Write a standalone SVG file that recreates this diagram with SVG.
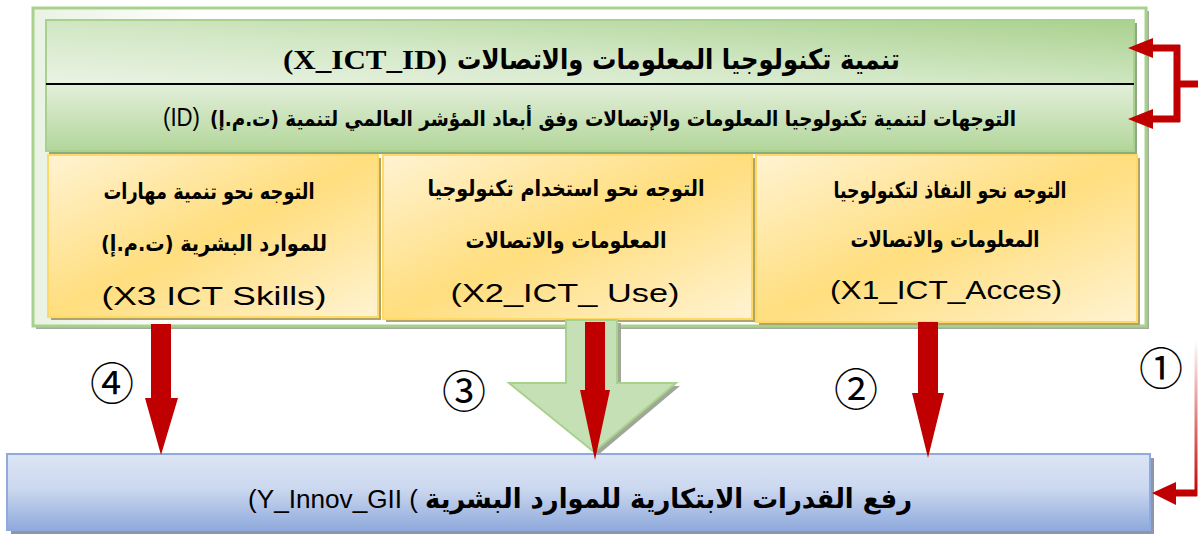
<svg xmlns="http://www.w3.org/2000/svg" width="1198" height="536" viewBox="0 0 1198 536">
<defs>
<linearGradient id="gFrame" x1="0" y1="0" x2="1" y2="0"><stop offset="0" stop-color="#e9f2e3"/><stop offset="0.15" stop-color="#ffffff"/><stop offset="1" stop-color="#ffffff"/></linearGradient>
<linearGradient id="gHeadTop" x1="0" y1="1" x2="1" y2="0"><stop offset="0" stop-color="#eaf3e4"/><stop offset="0.45" stop-color="#d3e8c6"/><stop offset="1" stop-color="#a9d18e"/></linearGradient>
<linearGradient id="gHeadBot" x1="0" y1="0" x2="0" y2="1"><stop offset="0" stop-color="#e3efda"/><stop offset="1" stop-color="#b2d69a"/></linearGradient>
<linearGradient id="gYellow" x1="0" y1="0" x2="1" y2="1"><stop offset="0" stop-color="#fff3d2"/><stop offset="0.5" stop-color="#ffde7e"/><stop offset="1" stop-color="#fff3d2"/></linearGradient>
<linearGradient id="gBlue" x1="0" y1="0" x2="0" y2="1"><stop offset="0" stop-color="#dce5f4"/><stop offset="0.45" stop-color="#ccd8ef"/><stop offset="1" stop-color="#8faadc"/></linearGradient>
<linearGradient id="gFade" x1="0" y1="0" x2="0" y2="1"><stop offset="0" stop-color="#c00000" stop-opacity="0"/><stop offset="1" stop-color="#c00000" stop-opacity="1"/></linearGradient>
<style>
.ar{font-family:"DejaVu Sans",sans-serif;font-weight:bold;fill:#000;}
.title{font-family:"Liberation Serif","DejaVu Sans",serif;font-weight:bold;font-size:27px;fill:#000;}
.lat{font-family:"Liberation Sans","DejaVu Sans",sans-serif;font-size:26px;fill:#000;}
.num{font-family:"Noto Sans CJK JP","DejaVu Sans",sans-serif;font-size:44px;fill:#000;}
.red{fill:#c00000;}
.ybox{fill:url(#gYellow);stroke:#ffd966;stroke-width:2;}
.yshadow{fill:#aea46c;}
</style>
</defs>

<g id="frame">
<rect x="36" y="11" width="1113" height="318" fill="#a3ad9c"/>
<rect x="33" y="8" width="1113" height="318" fill="url(#gFrame)" stroke="#a9d18e" stroke-width="3"/>
</g>

<g id="header">
<rect x="49" y="23" width="1088" height="131" fill="#8faa7f"/>
<rect x="46" y="20" width="1088" height="64" fill="url(#gHeadTop)"/>
<rect x="46" y="84" width="1088" height="67" fill="url(#gHeadBot)"/>
<rect x="46" y="20" width="1088" height="131" fill="none" stroke="#a9d18e" stroke-width="2"/>
<line x1="46" y1="84" x2="1134" y2="84" stroke="#000" stroke-width="2"/>
<text class="title" x="283" y="69" textLength="164" lengthAdjust="spacingAndGlyphs">(X_ICT_ID)</text>
<text class="ar" x="900" y="69" font-size="28" direction="rtl" text-anchor="start" textLength="443" lengthAdjust="spacingAndGlyphs">تنمية تكنولوجيا المعلومات والاتصالات</text>
<text class="lat" x="163" y="126" font-size="24" textLength="37" lengthAdjust="spacingAndGlyphs">(ID)</text>
<text class="ar" x="1016" y="126" font-size="21" direction="rtl" text-anchor="start" textLength="806" lengthAdjust="spacingAndGlyphs">التوجهات لتنمية  تكنولوجيا المعلومات والإتصالات وفق أبعاد المؤشر العالمي لتنمية (ت.م.إ)</text>
</g>

<g id="node-x3">
<rect class="yshadow" x="51" y="158" width="330" height="162"/>
<rect class="ybox" x="48" y="155" width="330" height="162"/>
<text class="ar" x="209" y="199" font-size="22" direction="rtl" text-anchor="middle" textLength="211" lengthAdjust="spacingAndGlyphs">التوجه نحو تنمية مهارات</text>
<text class="ar" x="214" y="251" font-size="22" direction="rtl" text-anchor="middle" textLength="226" lengthAdjust="spacingAndGlyphs">للموارد البشرية (ت.م.إ)</text>
<text class="lat" x="214" y="305" text-anchor="middle" textLength="225" lengthAdjust="spacingAndGlyphs">(X3 ICT Skills)</text>
</g>

<g id="node-x2">
<rect class="yshadow" x="386" y="158" width="369" height="164"/>
<rect class="ybox" x="383" y="155" width="369" height="164"/>
<text class="ar" x="566" y="196" font-size="22" direction="rtl" text-anchor="middle" textLength="277" lengthAdjust="spacingAndGlyphs">التوجه نحو استخدام تكنولوجيا</text>
<text class="ar" x="566" y="248" font-size="22" direction="rtl" text-anchor="middle" textLength="201" lengthAdjust="spacingAndGlyphs">المعلومات والاتصالات</text>
<text class="lat" x="565" y="302" text-anchor="middle" textLength="229" lengthAdjust="spacingAndGlyphs">(X2_ICT_ Use)</text>
</g>

<g id="node-x1">
<rect class="yshadow" x="759" y="158" width="381" height="167"/>
<rect class="ybox" x="756" y="155" width="381" height="167"/>
<text class="ar" x="950" y="198" font-size="22" direction="rtl" text-anchor="middle" textLength="233" lengthAdjust="spacingAndGlyphs">التوجه نحو النفاذ لتكنولوجيا</text>
<text class="ar" x="945" y="247" font-size="22" direction="rtl" text-anchor="middle" textLength="189" lengthAdjust="spacingAndGlyphs">المعلومات والاتصالات</text>
<text class="lat" x="946" y="299" text-anchor="middle" textLength="232" lengthAdjust="spacingAndGlyphs">(X1_ICT_Acces)</text>
</g>

<g id="node-y">
<rect x="11" y="458" width="1143" height="76" fill="#8c97aa"/>
<rect x="7" y="454" width="1143" height="76" fill="url(#gBlue)" stroke="#8faadc" stroke-width="2"/>
<text class="lat" x="248" y="508" textLength="170" lengthAdjust="spacingAndGlyphs">(Y_Innov_GII (</text>
<text class="ar" x="912" y="508" font-size="27" direction="rtl" text-anchor="start" textLength="487" lengthAdjust="spacingAndGlyphs">رفع القدرات الابتكارية للموارد البشرية</text>
</g>

<g id="connectors">
<polygon points="570,323 621,323 621,386 680,386 598,455 513,386 570,386" fill="#9fa897"/>
<polygon points="566,320 617,320 617,383 676,383 594,452 509,383 566,383" fill="#c5e0b4" stroke="#a9d18e" stroke-width="2"/>
<polygon class="red" points="151,324 171,324 171,398 178,398 161,455 145,398 151,398"/>
<polygon class="red" points="585,322 605,322 605,390 610,390 595,460 580,390 585,390"/>
<polygon class="red" points="918,322 938,322 938,393 944,393 928,458 912,393 918,393"/>
<path d="M1198,84 H1177 M1177,45 V122 M1180,48 H1150 M1180,119 H1150" fill="none" stroke="#c00000" stroke-width="7"/>
<polygon class="red" points="1128,48 1153,38 1153,58"/>
<polygon class="red" points="1128,119 1153,109 1153,129"/>
<rect x="1194.5" y="340" width="3" height="156" fill="url(#gFade)"/>
<path d="M1197,493 H1170" stroke="#c00000" stroke-width="7"/>
<polygon class="red" points="1152,493 1176,482 1176,505"/>
</g>

<g id="labels">
<text class="num" x="112" y="381" text-anchor="middle" dominant-baseline="central">④</text>
<text class="num" x="464" y="389" text-anchor="middle" dominant-baseline="central">③</text>
<text class="num" x="856" y="387" text-anchor="middle" dominant-baseline="central">②</text>
<text class="num" x="1161" y="366" text-anchor="middle" dominant-baseline="central">①</text>
</g>
</svg>
